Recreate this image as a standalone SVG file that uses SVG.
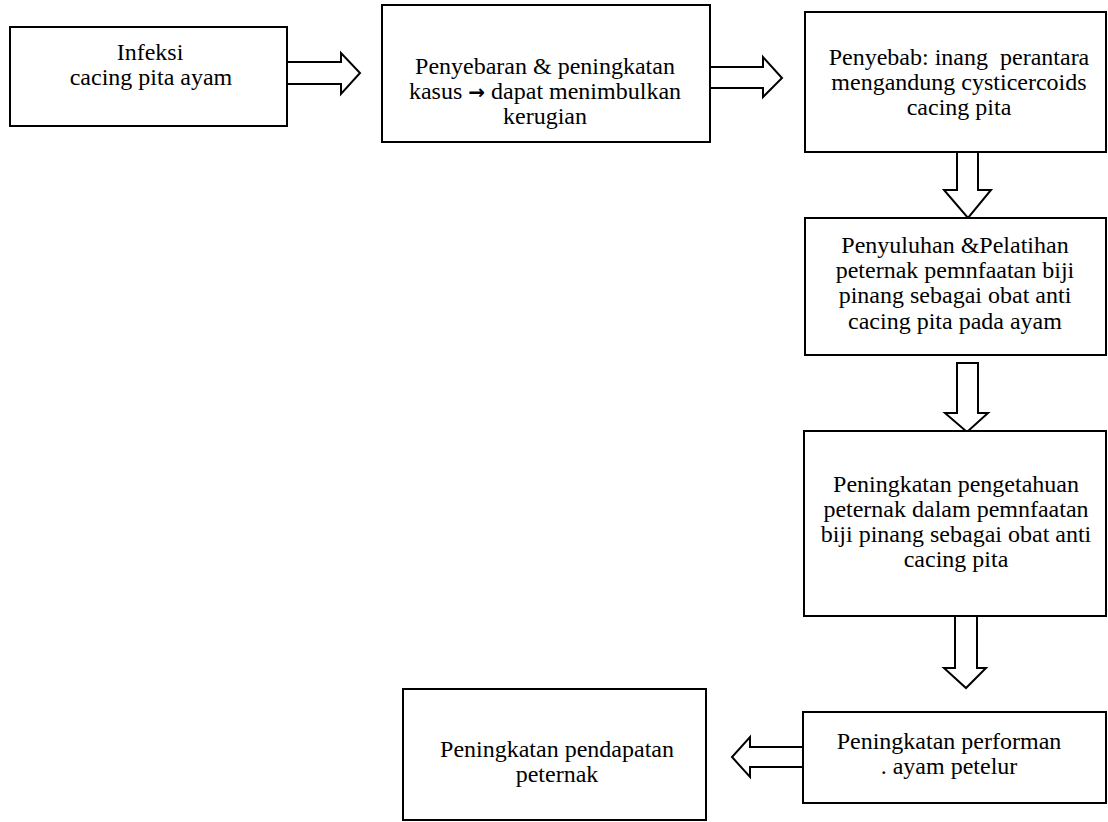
<svg xmlns="http://www.w3.org/2000/svg" width="1108" height="822" viewBox="0 0 1108 822">
<style>
.box{fill:#fff;stroke:#000;stroke-width:2}
.arr{fill:#fff;stroke:#000;stroke-width:2;stroke-linejoin:miter}
.t{font-family:'Liberation Serif','Times New Roman','DejaVu Serif',serif;font-size:24px;fill:#000;text-anchor:middle}
.ar{font-family:'DejaVu Sans',sans-serif;font-weight:bold}
</style>
<rect width="1108" height="822" fill="#fff"/>
<g id="connectors">
<path class="arr" d="M288,62 H341 V53 L360,73 L341,94 V84 H288"/>
<path class="arr" d="M710,67 H763 V57 L782,78 L763,97 V88 H710"/>
<path class="arr" d="M957,152 V190 H944 L968,218 L991,190 H978 V152"/>
<path class="arr" d="M957,363 V413 H945 L967,432 L988,413 H978 V363 Z"/>
<path class="arr" d="M955,616 V668 H944 L966,688 L986,668 H977 V616"/>
<path class="arr" d="M803,747 H750 V737 L732,757 L750,777 V767 H803"/>
</g>
<g id="n1" class="t" font-size="23"><rect class="box" x="10" y="27" width="277" height="99"/>
<text x="150" y="60">Infeksi</text><text x="151" y="85">cacing pita ayam</text></g>
<g id="n2" class="t"><rect class="box" x="382" y="5" width="328" height="137"/>
<text x="545" y="74">Penyebaran &amp; peningkatan</text>
<text x="545" y="99">kasus <tspan class="ar" font-size="20">→</tspan> dapat menimbulkan</text>
<text x="545" y="124">kerugian</text></g>
<g id="n3" class="t"><rect class="box" x="805" y="12" width="301" height="140"/>
<text x="959" y="65" xml:space="preserve">Penyebab: inang  perantara</text>
<text x="959" y="90">mengandung cysticercoids</text>
<text x="959" y="115">cacing pita</text></g>
<g id="n4" class="t" font-size="23.5"><rect class="box" x="805" y="218" width="301" height="137"/>
<text x="955" y="253">Penyuluhan &amp;Pelatihan</text>
<text x="955" y="278">peternak pemnfaatan biji</text>
<text x="955" y="303">pinang sebagai obat anti</text>
<text x="955" y="329">cacing pita pada ayam</text></g>
<g id="n5" class="t" font-size="23.5"><rect class="box" x="804" y="431" width="302" height="185"/>
<text x="956" y="492">Peningkatan pengetahuan</text>
<text x="956" y="517">peternak dalam pemnfaatan</text>
<text x="956" y="542">biji pinang sebagai obat anti</text>
<text x="956" y="567">cacing pita</text></g>
<g id="n6" class="t" font-size="24.5"><rect class="box" x="803" y="712" width="303" height="91"/>
<text x="949" y="749">Peningkatan performan</text>
<text x="949" y="774">. ayam petelur</text></g>
<g id="n7" class="t" font-size="23"><rect class="box" x="403" y="689" width="303" height="131"/>
<text x="557" y="757">Peningkatan pendapatan</text>
<text x="557" y="782">peternak</text></g>
</svg>
